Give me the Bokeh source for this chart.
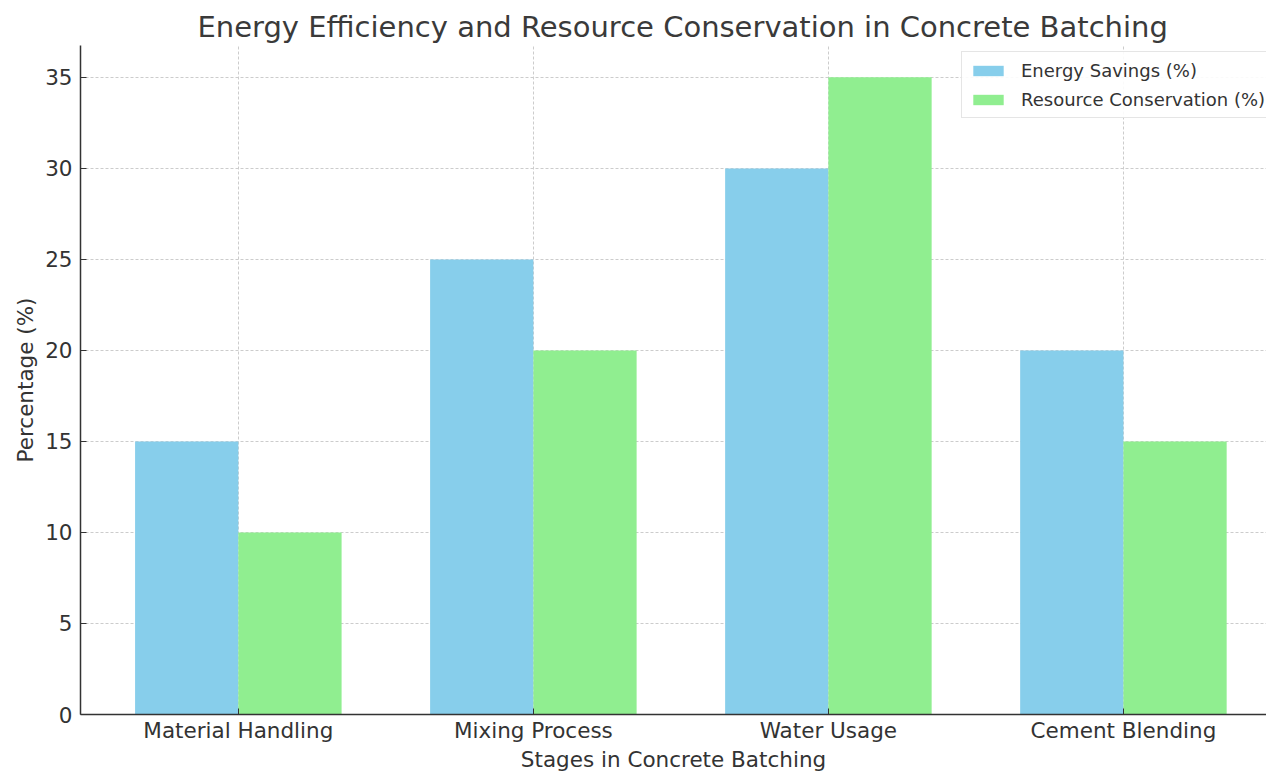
from bokeh.plotting import figure
from bokeh.models import ColumnDataSource, FixedTicker, Range1d, Legend, LegendItem
from bokeh.transform import dodge
from bokeh.embed import file_html
from bokeh.resources import INLINE

categories = ["Material Handling", "Mixing Process", "Water Usage", "Cement Blending"]
energy_savings = [15, 25, 30, 20]
resource_conservation = [10, 20, 35, 15]
y_ticks = [0, 5, 10, 15, 20, 25, 30, 35]

FONT = "DejaVu Sans"
TXT = "#333333"

src = ColumnDataSource(dict(
    x=list(range(len(categories))),
    energy=energy_savings,
    resource=resource_conservation,
))

p = figure(width=1266, height=774, output_backend="svg", toolbar_location=None,
           x_range=Range1d(-0.535, 3.485), y_range=Range1d(0, 36.75),
           min_border_left=80, min_border_right=0, min_border_top=45, min_border_bottom=60)

p.title.text = "Energy Efficiency and Resource Conservation in Concrete Batching"
p.title.text_font = FONT
p.title.text_font_size = "29px"
p.title.text_font_style = "normal"
p.title.text_color = "#3a3a3a"
p.title.align = "left"
p.title.standoff = 4
p.title.offset = 117

b1 = p.vbar(x=dodge("x", -0.175), top="energy", width=0.35, source=src,
            fill_color="#87CEEB", line_color=None)
b2 = p.vbar(x=dodge("x", 0.175), top="resource", width=0.35, source=src,
            fill_color="#90EE90", line_color=None)

legend = Legend(items=[LegendItem(label="Energy Savings (%)", renderers=[b1]),
                       LegendItem(label="Resource Conservation (%)", renderers=[b2])],
                location=(881, 596))
legend.label_text_font = FONT
legend.label_text_font_size = "18px"
legend.label_text_color = TXT
legend.glyph_width = 38
legend.glyph_height = 13
legend.label_standoff = 14
legend.padding = 7
legend.spacing = 7
legend.label_height = 22
legend.margin = 0
legend.border_line_color = "#cccccc"
legend.border_line_width = 1
legend.background_fill_alpha = 0.9
p.add_layout(legend, "center")

p.xaxis.ticker = FixedTicker(ticks=list(range(len(categories))))
p.xaxis.major_label_overrides = {i: c for i, c in enumerate(categories)}
p.yaxis.ticker = FixedTicker(ticks=y_ticks)

p.xaxis.axis_label = "Stages in Concrete Batching"
p.yaxis.axis_label = "Percentage (%)"

for ax in (p.xaxis[0], p.yaxis[0]):
    ax.axis_label_text_font = FONT
    ax.axis_label_text_font_size = "21.5px"
    ax.axis_label_text_font_style = "normal"
    ax.axis_label_text_color = TXT
    ax.major_label_text_font = FONT
    ax.major_label_text_font_size = "21.5px"
    ax.major_label_text_color = TXT
    ax.axis_line_color = "#333333"
    ax.axis_line_width = 1.5
    ax.major_tick_in = 6
    ax.major_tick_out = 0
    ax.major_tick_line_color = "#333333"
    ax.minor_tick_line_color = None
p.xaxis.major_label_standoff = 3
p.yaxis.major_label_standoff = 8
p.xaxis.axis_label_standoff = 1
p.yaxis.axis_label_standoff = 4

p.xgrid.ticker = FixedTicker(ticks=list(range(len(categories))))
for g in (p.xgrid[0], p.ygrid[0]):
    g.grid_line_color = "#cccccc"
    g.grid_line_dash = "3 2"
    g.grid_line_width = 1
p.outline_line_color = None
p.background_fill_color = "white"
p.border_fill_color = "white"

open("out.html", "w").write(file_html(p, INLINE))
